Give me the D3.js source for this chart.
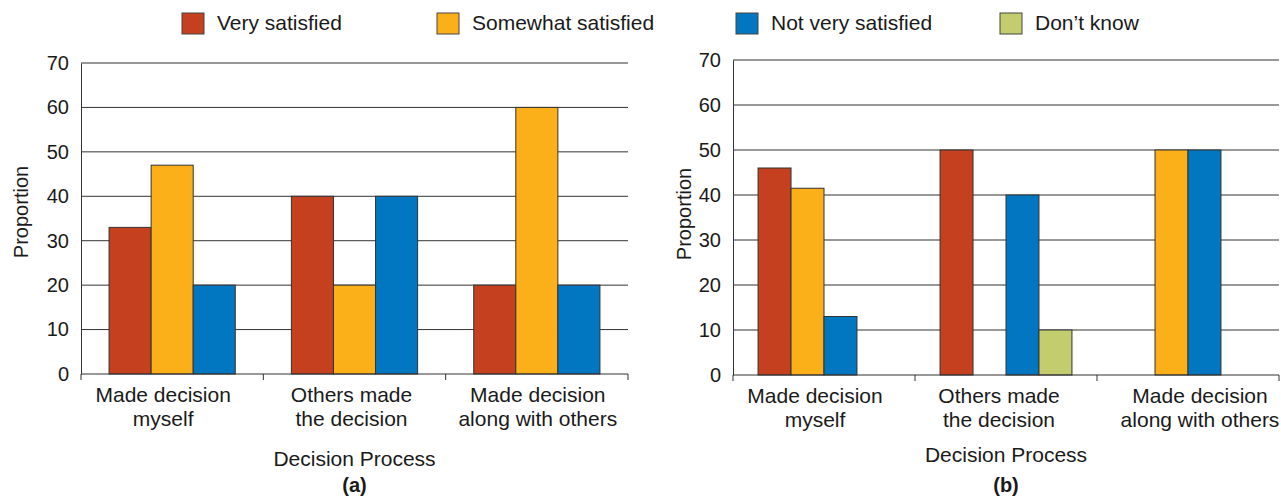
<!DOCTYPE html>
<html><head><meta charset="utf-8">
<script src="https://cdn.jsdelivr.net/npm/d3@7"></script>
<style>
body{margin:0;background:#fff;}
text{font-family:"Liberation Sans",Arial,Helvetica,sans-serif;fill:#1a1a1a;}
</style></head>
<body><svg id="c" width="1281" height="496"></svg>
<script>
const categories = [["Made decision","myself"],["Others made","the decision"],["Made decision","along with others"]];
const seriesNames = ["Very satisfied","Somewhat satisfied","Not very satisfied","Don\u2019t know"];
const seriesColors = ["#C5401E","#FBB01A","#0077C0","#C3CD6E"];
const yTicks = [0,10,20,30,40,50,60,70];
// Panel (a)
const aVery = [33, 40, 20];
const aSomewhat = [47, 20, 60];
const aNot = [20, 40, 20];
// Panel (b)
const bVery = [46, 50, null];
const bSomewhat = [41.5, null, 50];
const bNot = [13, 40, 50];
const bDontKnow = [null, 10, null];

const svg = d3.select("#c");
const catKeys = categories.map((d,i)=>i);

function panel(cfg){
  const {x0,x1,yTop,yBot,series,pad,label,labelY,title,dpY,catY,catDx} = cfg;
  const g = svg.append("g");
  const x = d3.scaleBand().domain(catKeys).range([x0,x1]).padding(0);
  const y = d3.scaleLinear().domain([0,70]).range([yBot,yTop]);
  const xs = d3.scaleBand().domain(series.map((d,i)=>i)).range([0,x.bandwidth()]).paddingInner(0).paddingOuter(pad);
  g.selectAll("line.grid").data(yTicks.filter(t=>t>0)).join("line")
    .attr("x1",x0).attr("x2",x1).attr("y1",d=>y(d)).attr("y2",d=>y(d))
    .attr("stroke","#333").attr("stroke-width",1);
  series.forEach((s,si)=>{
    g.selectAll("rect.s"+si).data(s.values.map((v,ci)=>({v,ci})).filter(d=>d.v!=null)).join("rect")
      .attr("x",d=>x(d.ci)+xs(si)).attr("width",xs.bandwidth())
      .attr("y",d=>y(d.v)).attr("height",d=>y(0)-y(d.v))
      .attr("fill",seriesColors[s.idx]).attr("stroke","#333").attr("stroke-width",1);
  });
  const ya = d3.axisLeft(y).tickValues(yTicks).tickSize(0).tickPadding(12);
  const yg = g.append("g").attr("transform",`translate(${x0},0)`).call(ya);
  yg.select(".domain").attr("stroke","#333");
  yg.selectAll("text").style("font-size","20px").attr("fill","#1a1a1a");
  const xa = g.append("g").attr("transform",`translate(0,${yBot})`);
  xa.append("line").attr("x1",x0).attr("x2",x1).attr("stroke","#333");
  const bounds = catKeys.map(k=>x(k)).concat([x1]);
  xa.selectAll("line.t").data(bounds).join("line").attr("x1",d=>d).attr("x2",d=>d).attr("y1",0).attr("y2",6).attr("stroke","#333");
  catKeys.forEach(k=>{
    const cxk = x(k)+x.bandwidth()/2+catDx[k];
    const t = xa.append("text").attr("x",cxk).attr("y",catY).attr("text-anchor","middle").style("font-size","21px");
    categories[k].forEach((ln,li)=>t.append("tspan").attr("x",cxk).attr("dy",li?24:0).text(ln));
  });
  const cx = (x0+x1)/2;
  g.append("text").attr("x",cx).attr("y",dpY).attr("text-anchor","middle").style("font-size","21px").text("Decision Process");
  g.append("text").attr("x",cx).attr("y",492).attr("text-anchor","middle").style("font-size","20px").style("font-weight","bold").text(title);
  g.append("text").attr("transform",`translate(${label},${labelY}) rotate(-90)`).attr("text-anchor","middle").style("font-size","20px").text("Proportion");
}

panel({x0:81,x1:628,yTop:63,yBot:374,pad:0.667,label:28,labelY:212,title:"(a)",dpY:466,catY:28,catDx:[-9,-3,1],
  series:[{idx:0,values:aVery},{idx:1,values:aSomewhat},{idx:2,values:aNot}]});
panel({x0:733,x1:1279,yTop:60,yBot:375,pad:0.76,label:691,labelY:214,title:"(b)",dpY:462,catY:28,catDx:[-9,-7,12],
  series:[{idx:0,values:bVery},{idx:1,values:bSomewhat},{idx:2,values:bNot},{idx:3,values:bDontKnow}]});

const legendX = [182,437,736,1000];
const lg = svg.append("g");
seriesNames.forEach((n,i)=>{
  lg.append("rect").attr("x",legendX[i]).attr("y",13).attr("width",22).attr("height",21)
    .attr("fill",seriesColors[i]).attr("stroke","#444").attr("stroke-width",1);
  lg.append("text").attr("x",legendX[i]+35).attr("y",30).style("font-size","21px").text(n);
});
</script></body></html>
